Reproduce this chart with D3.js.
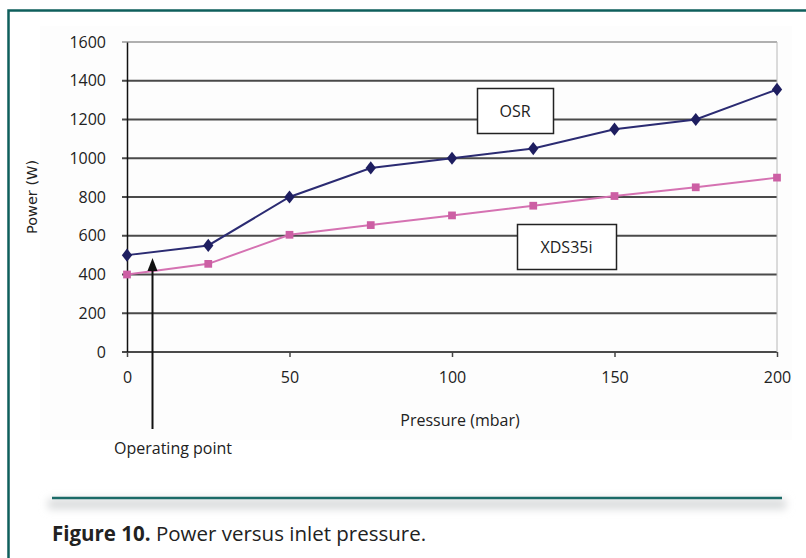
<!DOCTYPE html>
<html>
<head>
<meta charset="utf-8">
<script src="https://cdn.jsdelivr.net/npm/d3@7"></script>
<style>
  body { margin: 0; background: #fff; }
  svg { display: block; }
  text { font-family: "Open Sans", sans-serif; fill: #222; }
  .ylab { font-family: "DejaVu Sans", Verdana, sans-serif; font-size: 14.5px; }
</style>
</head>
<body>
<div id="chart"></div>
<script>
// pressure (mbar) on the x axis
var pressure = [0, 25, 50, 75, 100, 125, 150, 175, 200];
var osrPower = [500, 550, 800, 950, 1000, 1050, 1150, 1200, 1355];
var xdsPower = [400, 455, 605, 655, 705, 755, 805, 850, 900];
var xTicks = [0, 50, 100, 150, 200];
var yTicks = [0, 200, 400, 600, 800, 1000, 1200, 1400, 1600];

var width = 806, height = 558;
var svg = d3.select("#chart").append("svg")
    .attr("width", width)
    .attr("height", height);

var defs = svg.append("defs");
defs.append("filter").attr("id", "blur")
    .attr("x", "-10%").attr("y", "-100%").attr("width", "120%").attr("height", "300%")
  .append("feGaussianBlur").attr("stdDeviation", 4);

// faint panel behind the chart
svg.append("rect")
    .attr("x", 40).attr("y", 26)
    .attr("width", 752).attr("height", 414)
    .attr("fill", "#fdfdfd");

// outer frame
svg.append("path")
    .attr("d", "M8.5," + height + "V10.5H" + width)
    .attr("fill", "none")
    .attr("stroke", "#0f5f5c")
    .attr("stroke-width", 2.5);

var x = d3.scaleLinear().domain([0, 200]).range([127, 777]);
var y = d3.scaleLinear().domain([0, 1600]).range([352, 42]);

// grid lines
svg.append("g")
  .selectAll("line")
  .data(yTicks)
  .enter().append("line")
    .attr("x1", 122)
    .attr("x2", x(200))
    .attr("y1", function(d) { return y(d); })
    .attr("y2", function(d) { return y(d); })
    .attr("stroke", function(d) { return d == 1600 ? "#b0b0b0" : "#4a4a4a"; })
    .attr("stroke-width", 2);

// right border of the plot
svg.append("line")
    .attr("x1", x(200)).attr("x2", x(200))
    .attr("y1", y(1600)).attr("y2", y(0))
    .attr("stroke", "#b8b8b8").attr("stroke-width", 1);

// y axis
var yAxis = d3.axisLeft(y).tickValues(yTicks).tickFormat(d3.format("d")).tickSize(0).tickPadding(21);
var gy = svg.append("g")
    .attr("transform", "translate(" + x(0) + ",0)")
    .call(yAxis);
gy.select(".domain").attr("stroke", "#111").attr("stroke-width", 1.5);
gy.selectAll("text").attr("font-family", "Open Sans").attr("font-size", 16).attr("fill", "#222");

// x axis
var xAxis = d3.axisBottom(x).tickValues(xTicks).tickSize(5).tickPadding(15);
var gx = svg.append("g")
    .attr("transform", "translate(0," + y(0) + ")")
    .call(xAxis);
gx.select(".domain").remove();
gx.selectAll("line").attr("stroke", "#444").attr("stroke-width", 1.5);
gx.selectAll("text").attr("font-family", "Open Sans").attr("font-size", 16).attr("fill", "#222");

// axis titles
svg.append("text")
    .attr("class", "ylab")
    .attr("transform", "translate(37,197) rotate(-90)")
    .attr("text-anchor", "middle")
    .text("Power (W)");

svg.append("text")
    .attr("x", 460).attr("y", 426)
    .attr("text-anchor", "middle")
    .attr("font-size", 16)
    .text("Pressure (mbar)");

// series
var line = d3.line()
    .x(function(d) { return x(d[0]); })
    .y(function(d) { return y(d[1]); });

var osr = d3.zip(pressure, osrPower);
var xds = d3.zip(pressure, xdsPower);

svg.append("path")
    .datum(xds)
    .attr("d", line)
    .attr("fill", "none")
    .attr("stroke", "#d572b2")
    .attr("stroke-width", 2);

svg.append("path")
    .datum(osr)
    .attr("d", line)
    .attr("fill", "none")
    .attr("stroke", "#2b2b72")
    .attr("stroke-width", 2);

svg.append("g")
  .selectAll("path")
  .data(xds)
  .enter().append("path")
    .attr("transform", function(d) { return "translate(" + x(d[0]) + "," + y(d[1]) + ")"; })
    .attr("d", d3.symbol(d3.symbolSquare, 60))
    .attr("fill", "#cc5fa4");

svg.append("g")
  .selectAll("path")
  .data(osr)
  .enter().append("path")
    .attr("transform", function(d) { return "translate(" + x(d[0]) + "," + y(d[1]) + ") scale(1.15,0.85)"; })
    .attr("d", d3.symbol(d3.symbolDiamond, 70))
    .attr("fill", "#1e1e60");

// series labels
function labelBox(txt, x0, y0, w, h) {
  svg.append("rect")
      .attr("x", x0 + 0.5).attr("y", y0 + 0.5)
      .attr("width", w).attr("height", h)
      .attr("fill", "#fff")
      .attr("stroke", "#222")
      .attr("stroke-width", 1.5);
  svg.append("text")
      .attr("x", x0 + w / 2).attr("y", y0 + h / 2 + 6)
      .attr("text-anchor", "middle")
      .attr("font-size", 16)
      .text(txt);
}
labelBox("OSR", 477, 88, 76, 45);
labelBox("XDS35i", 517, 224, 99, 45);

// operating point arrow
svg.append("line")
    .attr("x1", 152.5).attr("x2", 152.5)
    .attr("y1", 429).attr("y2", 266)
    .attr("stroke", "#111").attr("stroke-width", 2);
svg.append("path")
    .attr("d", "M152.5,258L147.5,271L157.5,271Z")
    .attr("fill", "#111");
svg.append("text")
    .attr("x", 114).attr("y", 454)
    .attr("font-size", 16)
    .text("Operating point");

// caption rule with its shadow
svg.append("rect")
    .attr("x", 48).attr("y", 499)
    .attr("width", 738).attr("height", 10)
    .attr("fill", "#d8dadb")
    .attr("filter", "url(#blur)");
svg.append("line")
    .attr("x1", 52).attr("x2", 782)
    .attr("y1", 498).attr("y2", 498)
    .attr("stroke", "#1c6b68").attr("stroke-width", 2.5);

var cap = svg.append("text")
    .attr("x", 52).attr("y", 541)
    .attr("font-size", 20.5);
cap.append("tspan").attr("font-weight", "bold").text("Figure 10.");
cap.append("tspan").text(" Power versus inlet pressure.");
</script>
</body>
</html>
